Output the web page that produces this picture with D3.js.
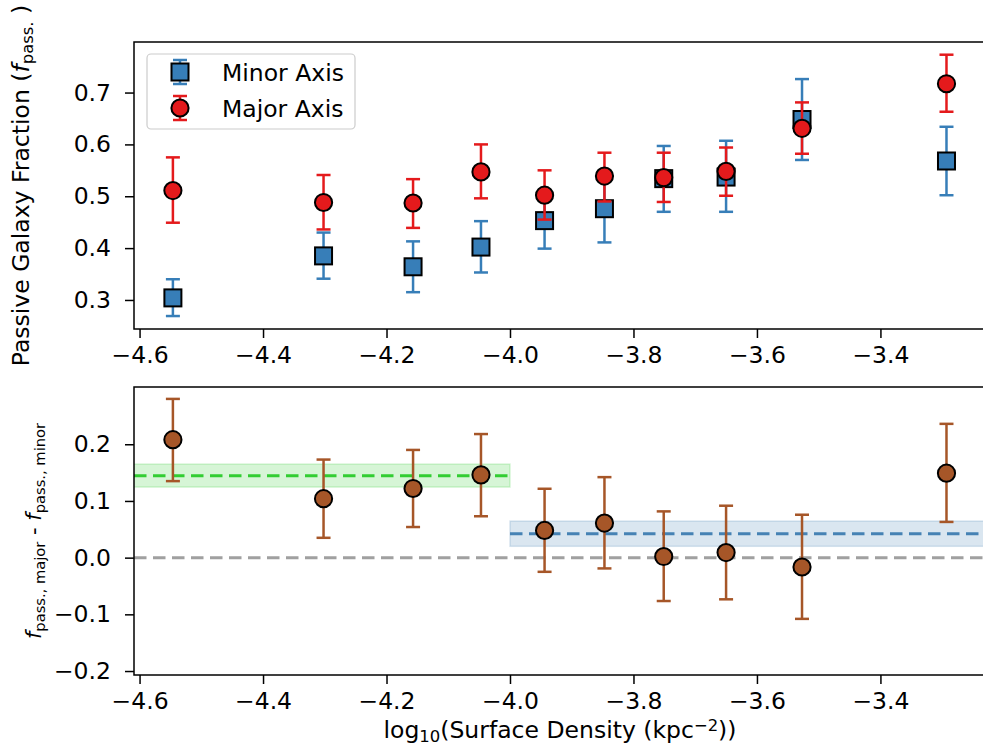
<!DOCTYPE html>
<html><head><meta charset="utf-8">
<script src="https://cdn.jsdelivr.net/npm/d3@7"></script>
<style>
body{margin:0;background:#fff;}
text{font-family:"DejaVu Sans",sans-serif;fill:#000;}
</style></head>
<body>
<svg id="chart" width="983" height="755"></svg>
<script>
// ---- data ----
const density = [-4.546, -4.302, -4.157, -4.047, -3.944, -3.847, -3.751, -3.650, -3.527, -3.293];
const minorFrac = [0.304, 0.385, 0.364, 0.402, 0.453, 0.476, 0.534, 0.537, 0.648, 0.568];
const minorLo   = [0.269, 0.341, 0.315, 0.353, 0.399, 0.411, 0.470, 0.470, 0.570, 0.502];
const minorHi   = [0.340, 0.430, 0.413, 0.452, 0.507, 0.541, 0.597, 0.607, 0.726, 0.634];
const majorFrac = [0.511, 0.488, 0.487, 0.547, 0.502, 0.539, 0.536, 0.548, 0.631, 0.717];
const majorLo   = [0.449, 0.436, 0.439, 0.496, 0.455, 0.490, 0.489, 0.501, 0.582, 0.663];
const majorHi   = [0.575, 0.541, 0.533, 0.600, 0.550, 0.584, 0.584, 0.594, 0.681, 0.773];
const diffVal   = [0.208, 0.104, 0.122, 0.146, 0.048, 0.061, 0.002, 0.009, -0.0165, 0.149];
const diffLo    = [0.135, 0.035, 0.054, 0.073, -0.025, -0.019, -0.0765, -0.0735, -0.108, 0.063];
const diffHi    = [0.280, 0.173, 0.190, 0.218, 0.1215, 0.142, 0.0816, 0.0916, 0.0757, 0.236];
const bandStart = [-4.7, -4.0];
const bandEnd   = [-4.0, -3.1];
const bandMean  = [0.1445, 0.0423];
const bandLo    = [0.1245, 0.020];
const bandHi    = [0.165, 0.0645];
const bandColor = ["#32cd32", "#4682b4"];
const xTicks = [-4.6, -4.4, -4.2, -4.0, -3.8, -3.6, -3.4];
const yTopTicks = [0.3, 0.4, 0.5, 0.6, 0.7];
const yBotTicks = [-0.2, -0.1, 0.0, 0.1, 0.2];
const legendLabels = ["Minor Axis", "Major Axis"];

// ---- layout ----
const svg = d3.select("#chart");
const L = 134, R = 986;
const top1 = 42, bot1 = 329, top2 = 387, bot2 = 675;
const C_MINOR = "#377eb8", C_MAJOR = "#e41a1c", C_DIFF = "#a65628";
const FS = 23.5;

const x = d3.scaleLinear().domain([-4.609, -3.229]).range([L, R]);
const yT = d3.scaleLinear().domain([0.244, 0.7975]).range([bot1, top1]);
const yB = d3.scaleLinear().domain([-0.207, 0.301]).range([bot2, top2]);

const defs = svg.append("defs");
defs.append("clipPath").attr("id","clipT").append("rect").attr("x",L).attr("y",top1).attr("width",R-L).attr("height",bot1-top1);
defs.append("clipPath").attr("id","clipB").append("rect").attr("x",L).attr("y",top2).attr("width",R-L).attr("height",bot2-top2);

function axes(yScale, yTicks, top, bot) {
  const fmt = d3.format(".1f");
  const gx = svg.append("g").attr("transform",`translate(0,${bot})`)
    .call(d3.axisBottom(x).tickValues(xTicks).tickFormat(fmt).tickSize(9).tickPadding(8));
  const gy = svg.append("g").attr("transform",`translate(${L},0)`)
    .call(d3.axisLeft(yScale).tickValues(yTicks).tickFormat(fmt).tickSize(9).tickPadding(14));
  [gx, gy].forEach(g => {
    g.select(".domain").remove();
    g.selectAll(".tick line").attr("stroke","#000").attr("stroke-width",1.5);
    g.selectAll(".tick text").style("font-family","DejaVu Sans").style("font-size",FS+"px").attr("fill","#000");
  });
  svg.append("rect").attr("x",L).attr("y",top).attr("width",R-L).attr("height",bot-top)
    .attr("fill","none").attr("stroke","#000").attr("stroke-width",1.5);
}

function errbars(g, yScale, lo, hi, color) {
  const sel = g.selectAll(null).data(density.map((d,i)=>({x:d, lo:lo[i], hi:hi[i]}))).enter().append("g");
  sel.append("line").attr("x1",d=>x(d.x)).attr("x2",d=>x(d.x)).attr("y1",d=>yScale(d.lo)).attr("y2",d=>yScale(d.hi))
    .attr("stroke",color).attr("stroke-width",2.5);
  sel.append("line").attr("x1",d=>x(d.x)-7).attr("x2",d=>x(d.x)+7).attr("y1",d=>yScale(d.lo)).attr("y2",d=>yScale(d.lo))
    .attr("stroke",color).attr("stroke-width",2.5);
  sel.append("line").attr("x1",d=>x(d.x)-7).attr("x2",d=>x(d.x)+7).attr("y1",d=>yScale(d.hi)).attr("y2",d=>yScale(d.hi))
    .attr("stroke",color).attr("stroke-width",2.5);
}

// ---- top panel ----
const gT = svg.append("g");
errbars(gT, yT, minorLo, minorHi, C_MINOR);
gT.selectAll(null).data(density.map((d,i)=>({x:d,y:minorFrac[i]}))).enter().append("rect")
  .attr("x",d=>x(d.x)-8.5).attr("y",d=>yT(d.y)-8.5).attr("width",17).attr("height",17)
  .attr("fill",C_MINOR).attr("stroke","#000").attr("stroke-width",2);
errbars(gT, yT, majorLo, majorHi, C_MAJOR);
gT.selectAll(null).data(density.map((d,i)=>({x:d,y:majorFrac[i]}))).enter().append("circle")
  .attr("cx",d=>x(d.x)).attr("cy",d=>yT(d.y)).attr("r",8.6)
  .attr("fill",C_MAJOR).attr("stroke","#000").attr("stroke-width",2);
axes(yT, yTopTicks, top1, bot1);

// legend
const lg = svg.append("g");
lg.append("rect").attr("x",147).attr("y",54).attr("width",208).attr("height",75).attr("rx",4)
  .attr("fill","#fff").attr("fill-opacity",0.8).attr("stroke","#cccccc").attr("stroke-width",1.2);
const legY = [72, 108];
[C_MINOR, C_MAJOR].forEach((c,i)=>{
  const cx = 180, cy = legY[i];
  lg.append("line").attr("x1",cx).attr("x2",cx).attr("y1",cy-12).attr("y2",cy+12).attr("stroke",c).attr("stroke-width",2.5);
  lg.append("line").attr("x1",cx-7).attr("x2",cx+7).attr("y1",cy-12).attr("y2",cy-12).attr("stroke",c).attr("stroke-width",2.5);
  lg.append("line").attr("x1",cx-7).attr("x2",cx+7).attr("y1",cy+12).attr("y2",cy+12).attr("stroke",c).attr("stroke-width",2.5);
  if (i===0) lg.append("rect").attr("x",cx-8.5).attr("y",cy-8.5).attr("width",17).attr("height",17).attr("fill",c).attr("stroke","#000").attr("stroke-width",2);
  else lg.append("circle").attr("cx",cx).attr("cy",cy).attr("r",8.6).attr("fill",c).attr("stroke","#000").attr("stroke-width",2);
  lg.append("text").attr("x",222).attr("y",cy+9).style("font-size",FS+"px").text(legendLabels[i]);
});

// ---- bottom panel ----
const gB = svg.append("g").attr("clip-path","url(#clipB)");
bandMean.forEach((m,i)=>{
  gB.append("rect").attr("x",x(bandStart[i])).attr("y",yB(bandHi[i]))
    .attr("width",x(bandEnd[i])-x(bandStart[i])).attr("height",yB(bandLo[i])-yB(bandHi[i]))
    .attr("fill",bandColor[i]).attr("fill-opacity",0.2)
    .attr("stroke",bandColor[i]).attr("stroke-opacity",0.2).attr("stroke-width",1.5);
});
gB.append("line").attr("x1",L).attr("x2",R).attr("y1",yB(0)).attr("y2",yB(0))
  .attr("stroke","#a0a0a0").attr("stroke-width",3).attr("stroke-dasharray","12.5,6.5");
bandMean.forEach((m,i)=>{
  gB.append("line").attr("x1",x(Math.max(bandStart[i],-4.609))).attr("x2",x(bandEnd[i])).attr("y1",yB(m)).attr("y2",yB(m))
    .attr("stroke",bandColor[i]).attr("stroke-width",3).attr("stroke-dasharray","12.5,6.5");
});
const gB2 = svg.append("g");
errbars(gB2, yB, diffLo, diffHi, C_DIFF);
gB2.selectAll(null).data(density.map((d,i)=>({x:d,y:diffVal[i]}))).enter().append("circle")
  .attr("cx",d=>x(d.x)).attr("cy",d=>yB(d.y)).attr("r",8.6)
  .attr("fill",C_DIFF).attr("stroke","#000").attr("stroke-width",2);
axes(yB, yBotTicks, top2, bot2);

// ---- axis labels ----
const xl = svg.append("text").attr("x",(L+R)/2).attr("y",738).attr("text-anchor","middle").style("font-size",FS+"px");
xl.append("tspan").text("log");
xl.append("tspan").attr("baseline-shift","-25%").style("font-size",(FS*0.7)+"px").text("10");
xl.append("tspan").text("(Surface Density (kpc");
xl.append("tspan").attr("baseline-shift","45%").style("font-size",(FS*0.7)+"px").text("−2");
xl.append("tspan").text("))");

const yl1 = svg.append("text").attr("transform",`translate(29,${(top1+bot1)/2}) rotate(-90)`).attr("text-anchor","middle").style("font-size",FS+"px");
yl1.append("tspan").text("Passive Galaxy Fraction (");
yl1.append("tspan").style("font-style","italic").text("f");
yl1.append("tspan").attr("baseline-shift","-25%").style("font-size",(FS*0.7)+"px").text("pass.");
yl1.append("tspan").text(" )");

const FS2 = 21;
const yl2 = svg.append("text").attr("transform",`translate(41,${(top2+bot2)/2}) rotate(-90)`).attr("text-anchor","middle").style("font-size",FS2+"px");
yl2.append("tspan").style("font-style","italic").text("f");
yl2.append("tspan").attr("baseline-shift","-25%").style("font-size",(FS2*0.7)+"px").text("pass., major");
yl2.append("tspan").text(" - ");
yl2.append("tspan").style("font-style","italic").text("f");
yl2.append("tspan").attr("baseline-shift","-25%").style("font-size",(FS2*0.7)+"px").text("pass., minor");
</script>
</body></html>
